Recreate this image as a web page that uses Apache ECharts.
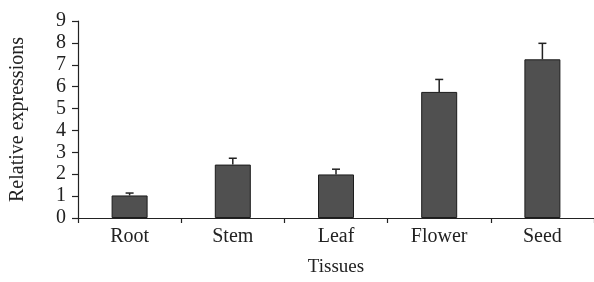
<!DOCTYPE html>
<html>
<head>
<meta charset="utf-8">
<script src="https://cdn.jsdelivr.net/npm/echarts@6/dist/echarts.min.js"></script>
<style>
html,body{margin:0;padding:0;background:#fff;}
#chart{width:594px;height:282px;}
</style>
</head>
<body>
<div id="chart"></div>
<script>
const categories = ['Root', 'Stem', 'Leaf', 'Flower', 'Seed'];
const values = [1.03, 2.44, 1.99, 5.76, 7.25];
const errorTops = [1.14, 2.73, 2.23, 6.33, 7.98];
const yTicks = [0, 1, 2, 3, 4, 5, 6, 7, 8, 9];

const FONT = '"Liberation Serif", "DejaVu Serif", serif';
const chart = echarts.init(document.getElementById('chart'));
chart.setOption({
  animation: false,
  grid: { left: 76, right: -4, top: 21, bottom: 62 },
  xAxis: {
    type: 'category',
    data: categories,
    name: 'Tissues',
    nameLocation: 'middle',
    nameGap: 40,
    nameTextStyle: { fontFamily: FONT, fontSize: 19, color: '#222' },
    axisLine: { lineStyle: { color: '#222', width: 1.2 } },
    axisTick: { show: true, length: 5, lineStyle: { color: '#222', width: 1.2 } },
    axisLabel: { fontFamily: FONT, fontSize: 20, color: '#222', margin: 9 }
  },
  yAxis: {
    type: 'value',
    min: yTicks[0],
    max: yTicks[yTicks.length - 1],
    interval: 1,
    name: 'Relative expressions',
    nameLocation: 'middle',
    nameGap: 50,
    nameTextStyle: { fontFamily: FONT, fontSize: 20, color: '#222' },
    splitLine: { show: false },
    axisLine: { show: true, lineStyle: { color: '#222', width: 1.2 } },
    axisTick: { show: true, length: 6, lineStyle: { color: '#222', width: 1.2 } },
    axisLabel: { fontFamily: FONT, fontSize: 20, color: '#222', margin: 12 }
  },
  series: [
    {
      type: 'bar',
      data: values,
      barWidth: 36,
      itemStyle: { color: '#505050', borderColor: '#1c1c1c', borderWidth: 1 }
    },
    {
      type: 'custom',
      data: categories.map((c, i) => [i, values[i], errorTops[i]]),
      renderItem: function (params, api) {
        const base = api.coord([api.value(0), api.value(1)]);
        const top = api.coord([api.value(0), api.value(2)]);
        const half = 4;
        const style = { stroke: '#222', lineWidth: 1.5 };
        return {
          type: 'group',
          children: [
            { type: 'line', shape: { x1: base[0], y1: base[1], x2: top[0], y2: top[1] }, style: style },
            { type: 'line', shape: { x1: top[0] - half, y1: top[1], x2: top[0] + half, y2: top[1] }, style: style }
          ]
        };
      },
      z: 3
    }
  ]
});
</script>
</body>
</html>
